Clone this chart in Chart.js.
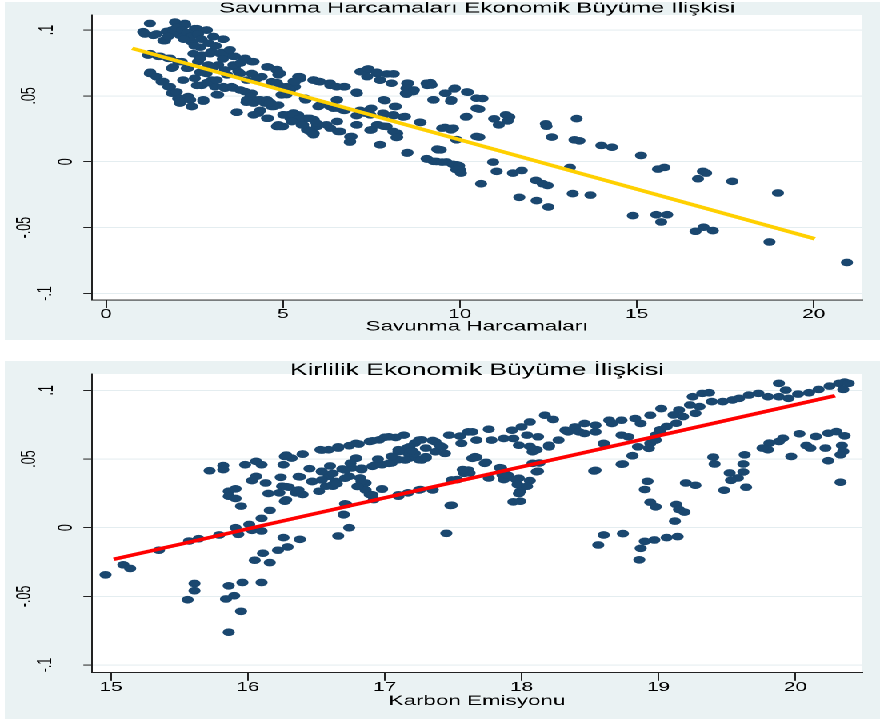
<!DOCTYPE html>
<html>
<head>
<meta charset="utf-8">
<script src="https://cdn.jsdelivr.net/npm/chart.js"></script>
<style>
  html, body { margin: 0; padding: 0; background: #ffffff; }
  /* grafik dar çizilip yatayda 1.6 kat gerilir (orijinal görüntü gibi) */
  #stage { position: absolute; left: 0; top: 0; width: 550px; height: 720px; transform: scaleX(1.6); transform-origin: 0 0; }
  .panel { position: absolute; left: 3px; width: 547px; }
  #p1 { top: 2px; height: 338px; }
  #p2 { top: 361px; height: 358px; }
</style>
</head>
<body>
<div id="stage">
  <div class="panel" id="p1"><canvas id="canvasSavunma"></canvas></div>
  <div class="panel" id="p2"><canvas id="canvasKarbon"></canvas></div>
</div>
<script>
// Savunma harcamaları (x) - ekonomik büyüme (y)
var savunmaNoktalar = [
  [1.24,0.105],[1.05,0.0987],[1.34,0.096],[1.95,0.106],[2.23,0.105],[1.86,0.1],[2.09,0.096],[2.51,0.101],[2.84,0.1],[3.03,0.095],
  [3.31,0.093],[1.67,0.092],[2.42,0.091],[2.66,0.087],[2.7,0.081],[2.98,0.0836],[3.27,0.083],[3.64,0.08],[3.93,0.0785],[4.12,0.076],
  [4.58,0.072],[4.82,0.0697],[4.87,0.066],[1.19,0.081],[1.48,0.08],[1.76,0.0785],[2.04,0.076],[1.86,0.071],[2.32,0.071],[2.6,0.076],
  [2.89,0.0735],[3.17,0.0735],[3.36,0.0697],[3.64,0.072],[3.74,0.0684],[4.12,0.067],[4.4,0.0646],[4.68,0.0608],[5.1,0.057],[5.43,0.0646],
  [1.24,0.067],[1.43,0.0646],[1.57,0.0608],[1.76,0.057],[1.86,0.052],[2.04,0.048],[2.09,0.0445],[2.32,0.0495],[2.42,0.042],[2.75,0.046],
  [2.18,0.062],[2.51,0.0634],[2.7,0.058],[2.99,0.062],[3.17,0.0508],[3.08,0.057],[3.36,0.0558],[3.55,0.057],[3.93,0.0533],[4.12,0.052],
  [3.97,0.0452],[4.3,0.047],[4.49,0.0445],[4.68,0.042],[4.87,0.043],[4.3,0.0369],[3.69,0.0376],[4.58,0.033],[4.87,0.028],[5.15,0.0356],
  [5.43,0.0356],[5.53,0.028],[4.96,0.0508],[5.34,0.057],[4.96,0.057],[2.84,0.067],[3.36,0.081],
  [1.1,0.097],[1.43,0.097],[1.62,0.092],[1.72,0.099],[2.24,0.104],[2.57,0.101],[2.85,0.1],[3.04,0.095],[3.32,0.093],[1.25,0.082],
  [1.53,0.08],[1.81,0.0785],[2.14,0.076],[2.47,0.082],[2.66,0.0785],[2.94,0.082],[3.23,0.082],[3.6,0.08],[3.89,0.077],[4.17,0.076],
  [4.55,0.072],[4.83,0.07],[3.6,0.0735],[3.04,0.072],[2.66,0.068],[2.28,0.071],[1.9,0.072],[1.25,0.068],[1.43,0.0645],[1.62,0.061],
  [1.81,0.057],[2.0,0.053],[2.09,0.048],[2.09,0.046],[2.38,0.047],[2.43,0.042],[2.75,0.047],[2.57,0.058],[2.85,0.06],[3.13,0.062],
  [3.42,0.066],[3.79,0.067],[3.98,0.062],[4.26,0.063],[3.13,0.051],[3.32,0.057],[3.6,0.056],[3.79,0.0545],[4.08,0.0495],[3.98,0.047],
  [4.17,0.0445],[4.36,0.047],[4.55,0.047],[4.74,0.042],[4.36,0.039],[4.17,0.0356],[3.7,0.0376],[4.55,0.033],[4.64,0.045],[5.02,0.0356],
  [5.21,0.033],[5.3,0.037],[5.49,0.0306],[5.68,0.033],[5.87,0.032],[5.68,0.0242],[5.96,0.0268],[5.87,0.0217],[6.34,0.0255],[6.53,0.0306],
  [6.62,0.023],[6.9,0.019],[6.9,0.0154],[7.09,0.028],[4.83,0.0268],[5.0,0.0268],[5.2,0.0545],[5.1,0.051],[4.83,0.06],[5.3,0.061],
  [5.49,0.063],[5.87,0.062],[6.0,0.061],[6.34,0.058],[6.72,0.057],[5.64,0.047],[6.0,0.042],[6.43,0.0406],[6.53,0.047],[6.72,0.039],
  [7.09,0.052],[7.19,0.0684],[7.38,0.0697],[7.66,0.067],[7.94,0.0667],[8.13,0.0667],[7.75,0.062],[7.38,0.0646],[7.85,0.047],[8.19,0.042],
  [7.19,0.037],[7.47,0.04],[7.47,0.0356],[7.85,0.0356],[8.13,0.035],[8.4,0.034],[7.85,0.027],[7.66,0.028],[7.47,0.024],[8.23,0.0217],
  [8.23,0.0187],[7.75,0.0129],[8.51,0.0066],[8.51,0.0596],[8.51,0.0558],[8.7,0.0545],[8.47,0.052],[8.89,0.0298],[9.08,0.058],[9.17,0.06],
  [9.26,0.047],[9.08,0.002],[9.26,0.0003],[9.36,0.0096],
  [4.92,0.067],[5.48,0.0646],[5.34,0.0608],[5.86,0.062],[6.05,0.0608],[6.33,0.0596],[6.52,0.057],[6.75,0.057],[5.06,0.0558],[7.08,0.0528],
  [7.22,0.0684],[7.41,0.0705],[7.65,0.068],[7.74,0.062],[8.12,0.0667],[8.07,0.0596],[8.54,0.0596],[8.49,0.0558],[8.68,0.0533],[8.49,0.0513],
  [9.06,0.0596],[9.2,0.0583],[9.58,0.052],[9.86,0.0558],[10.23,0.0528],[9.76,0.047],[9.25,0.047],[10.47,0.0482],[6.52,0.047],[5.62,0.0482],
  [6.05,0.043],[6.33,0.042],[6.56,0.0406],[6.75,0.039],[7.18,0.039],[7.5,0.0406],[7.88,0.0464],[8.16,0.042],[7.08,0.035],[7.32,0.0369],
  [7.83,0.0369],[8.12,0.0356],[8.45,0.0343],[8.87,0.03],[5.01,0.0356],[5.29,0.0356],[5.48,0.033],[5.76,0.033],[5.95,0.0293],[6.23,0.028],
  [5.25,0.0305],[5.57,0.028],[5.76,0.023],[5.86,0.0205],[4.92,0.0268],[7.08,0.028],[6.56,0.023],[6.94,0.0192],[6.89,0.0149],[7.5,0.0242],
  [7.69,0.028],[7.93,0.0268],[8.12,0.023],[8.21,0.0184],[7.74,0.0129],[8.52,0.007],[9.06,0.0023],[9.34,0.0002],[9.62,-0.0002],[9.91,-0.0023],
  [10.0,-0.006],[9.39,0.009],[9.58,0.026],[9.81,0.0255],[9.91,0.0167],[10.19,0.0343],[10.47,0.0406],[10.47,0.0192],
  [9.6,0.052],[9.84,0.0553],[10.2,0.053],[10.64,0.048],[9.75,0.046],[10.55,0.04],[10.17,0.034],[10.97,0.0326],[11.3,0.0356],[11.4,0.034],
  [11.35,0.031],[11.1,0.028],[12.43,0.0288],[12.45,0.027],[12.6,0.0187],[13.3,0.0328],[13.24,0.0166],[13.38,0.0159],[14.0,0.0124],[14.3,0.011],
  [15.12,0.0048],[15.6,-0.0056],[15.78,-0.0043],[16.87,-0.0073],[16.96,-0.0086],[16.73,-0.0129],[17.7,-0.0149],[18.99,-0.0237],[9.5,0.0255],[9.75,0.0242],
  [9.9,0.0167],[10.55,0.0187],[9.46,0.009],[9.5,-0.0003],[9.8,-0.002],[9.98,-0.003],[9.9,-0.006],[10.03,-0.0086],[10.6,-0.0167],[10.94,-0.0003],
  [11.04,-0.0073],[11.5,-0.0086],[11.75,-0.0066],[11.68,-0.027],[12.15,-0.0141],[12.34,-0.0167],[12.48,-0.018],[12.17,-0.0295],[12.5,-0.0343],[13.11,-0.0043],
  [13.19,-0.0242],[13.69,-0.0253],[14.89,-0.0409],[15.55,-0.0402],[15.69,-0.0457],[15.86,-0.0402],[16.66,-0.0528],[16.89,-0.0497],[17.15,-0.0523],[18.75,-0.0609],
  [20.94,-0.0765],
  [1.9,0.098],[2.0,0.102],[2.15,0.1],[2.3,0.098],[2.4,0.095],[2.6,0.097],[2.7,0.093],[2.2,0.093],[2.5,0.088],[1.75,0.095],
  [2.9,0.09],[3.1,0.088],[3.5,0.085],[3.3,0.078],[3.8,0.075]
];
// uydurulan doğru (uç noktalar)
var savunmaFit = [[0.74, 0.0861], [20.03, -0.0585]];

// Karbon emisyonu (x) - ekonomik büyüme (y)
var karbonNoktalar = [
  [14.96,-0.0343],[15.09,-0.027],[15.14,-0.0297],[15.35,-0.0164],[15.57,-0.0097],[15.64,-0.008],[15.56,-0.0524],[15.61,-0.0459],[15.61,-0.0406],[15.72,0.0415],
  [15.82,0.0452],[15.82,0.0423],[15.79,-0.0053],[15.86,0.0266],[15.91,0.0283],[15.86,0.0229],[15.91,0.0213],[15.95,0.0157],[15.91,0.0],[15.93,-0.0048],
  [15.84,-0.0519],[15.86,-0.0423],[15.9,-0.0495],[15.96,-0.0399],[15.95,-0.0609],[15.86,-0.0761],[15.98,0.0459],[16.01,0.0024],[16.03,-0.0019],[16.1,-0.0024],
  [16.03,0.0343],[16.06,0.0374],[16.06,0.0483],[16.1,0.0459],[16.13,0.0326],[16.1,0.0068],[16.16,0.0126],[16.05,-0.0237],[16.11,-0.0186],[16.16,-0.0254],
  [16.1,-0.0399],[16.15,0.0249],[16.23,0.0254],[16.24,0.0367],[16.25,0.0302],[16.3,0.0295],[16.27,0.0193],[16.26,-0.0072],[16.22,-0.0164],[16.29,-0.014],
  [16.38,-0.0085],[16.26,0.0459],[16.27,0.0519],[16.32,0.0507],[16.4,0.0536],[16.35,0.0254],[16.38,0.037],[16.4,0.0242],[16.47,0.0338],[16.52,0.0266],
  [16.53,0.0568],[16.59,0.0568],[16.66,0.058],[16.74,0.0597],[16.81,0.0609],[16.89,0.0628],[16.96,0.064],[17.0,0.0659],[17.08,0.0657],[17.14,0.0674],
  [16.54,0.0411],[16.59,0.0374],[16.64,0.0338],[16.57,0.0302],[16.62,0.0302],[16.69,0.0428],[16.74,0.0374],[16.79,0.0507],[16.76,0.0435],[16.83,0.0423],
  [16.82,0.0362],[16.86,0.0326],[16.89,0.0242],[16.92,0.0205],[16.98,0.0283],[16.91,0.0447],[16.98,0.0459],[17.05,0.0471],[17.1,0.0495],[17.18,0.0507],
  [17.25,0.0495],[17.3,0.0507],[17.1,0.0568],[17.16,0.058],[17.22,0.0616],[17.27,0.064],[17.35,0.0635],[17.17,0.0543],[17.1,0.0229],[17.17,0.0254],
  [17.26,0.0278],[17.35,0.0278],[16.7,0.0097],[16.72,0.0169],[16.74,0.0],[16.66,-0.006],
  [16.28,0.0529],[16.4,0.0536],[16.54,0.0565],[16.66,0.0589],[16.79,0.0614],[16.91,0.0633],[17.03,0.0662],[17.25,0.0638],[17.37,0.0625],[17.47,0.0674],
  [17.55,0.0667],[17.64,0.0698],[17.42,0.0589],[17.44,0.0541],[17.56,0.0614],[17.64,0.0505],[17.18,0.0589],[17.22,0.0541],[17.27,0.0493],[17.1,0.0553],
  [17.15,0.0493],[17.03,0.0469],[16.93,0.0457],[16.83,0.0433],[16.71,0.042],[16.62,0.0396],[16.79,0.0505],[16.54,0.0408],[16.47,0.0336],[16.54,0.0348],
  [16.62,0.0312],[16.71,0.036],[16.83,0.0336],[16.86,0.0275],[16.37,0.0372],[16.28,0.0299],[16.37,0.0275],[16.28,0.0203],[16.98,0.028],[16.91,0.0239],
  [17.1,0.0239],[17.25,0.0275],[17.35,0.0275],[17.49,0.0348],[17.58,0.0396],[17.61,0.042],[17.48,0.0162],[16.71,0.0174],[16.7,0.0094],[17.3,0.0517],
  [17.37,0.0553],
  [17.61,0.0698],[17.76,0.0717],[17.93,0.071],[18.0,0.0734],[18.06,0.077],[18.17,0.0819],[18.23,0.0788],[17.67,0.0638],[17.78,0.0638],[17.87,0.065],
  [17.94,0.065],[18.04,0.0674],[18.12,0.0662],[18.2,0.0601],[18.27,0.0638],[18.34,0.0698],[18.39,0.0734],[18.46,0.0759],[18.54,0.0746],[18.64,0.0783],
  [18.73,0.0783],[18.83,0.0795],[18.94,0.0819],[19.02,0.0867],[18.32,0.071],[18.42,0.0698],[18.46,0.0686],[18.54,0.0698],[18.6,0.0614],[18.66,0.0759],
  [18.73,0.0674],[18.78,0.0662],[18.87,0.0759],[17.98,0.0601],[18.08,0.0553],[18.1,0.0565],[18.2,0.0589],[17.66,0.0517],[17.73,0.0469],[17.84,0.0437],
  [17.86,0.0384],[18.08,0.0469],[18.11,0.0408],[17.98,0.036],[18.53,0.0413],[18.73,0.0462],[18.81,0.0524],[18.85,0.0589],[18.94,0.0614],[18.98,0.0638],
  [18.93,0.0578],[18.98,0.0674],[19.01,0.0698],
  [19.01,0.0713],[19.11,0.0821],[19.15,0.0857],[19.23,0.0894],[19.25,0.0954],[19.32,0.0978],[19.37,0.0983],[19.3,0.0882],[19.39,0.0918],[19.47,0.0918],
  [19.54,0.093],[19.59,0.0942],[19.66,0.0966],[19.73,0.0978],[19.8,0.0954],[19.88,0.0954],[19.95,0.0942],[19.88,0.1051],[19.93,0.1002],[20.02,0.0973],
  [20.1,0.0983],[20.17,0.1007],[20.25,0.1031],[20.32,0.1051],[20.36,0.106],[20.39,0.1051],[20.35,0.1007],[19.18,0.0809],[19.13,0.0761],[19.27,0.0833],
  [19.06,0.0737],
  [20.03,0.0684],[20.15,0.0664],[20.24,0.0688],[20.3,0.07],[20.36,0.0669],[20.34,0.0599],[20.35,0.0556],[20.33,0.0531],[20.22,0.058],[20.24,0.0488],
  [20.33,0.0331],[20.08,0.0599],[20.11,0.058],[19.97,0.0519],[19.91,0.0652],[19.88,0.0628],[19.81,0.0616],[19.8,0.0568],[19.76,0.058],[19.63,0.0531],
  [19.62,0.0464],[19.62,0.0406],[19.64,0.0295],[19.58,0.0362],[19.53,0.0345],[19.52,0.0399],[19.48,0.0273],[19.4,0.0514],[19.41,0.0464],[19.2,0.0326],
  [19.27,0.0309],[19.13,0.0169],[19.15,0.0133],[19.19,0.0114],[19.12,0.0048],[19.14,-0.0065],[19.06,-0.0072],[18.97,-0.0089],[18.9,-0.0099],[18.87,-0.015],
  [18.86,-0.0234],[18.94,0.0186],[18.98,0.0152],[18.9,0.0278],[18.92,0.0338],[18.74,-0.0043],[18.6,-0.0053],[18.56,-0.0126],[18.74,0.0464],[18.54,0.0418],
  [18.81,0.0524],[18.6,0.0611],[17.45,-0.0041],[17.49,0.0164],[17.67,0.0512],[17.74,0.0476],[17.76,0.0362],[17.85,0.0435],[17.87,0.035],[17.9,0.0382],
  [17.96,0.035],[17.97,0.0314],[17.99,0.0266],[17.98,0.0249],[17.94,0.0188],[17.99,0.0193],[18.06,0.0343],[18.04,0.0302],[18.12,0.0411],[18.13,0.0471],
  [18.11,0.0568],[18.06,0.0592],[17.62,0.0399],[17.57,0.0423],[17.53,0.035],
  [16.45,0.043],[16.6,0.045],[16.75,0.047],[16.95,0.05],[17.05,0.052],[17.2,0.056],[17.3,0.058],[17.4,0.06],[16.65,0.032],[16.8,0.03]
];
var karbonFit = [[15.02, -0.023], [20.29, 0.0961]];

// eksen işaretleri
var yTickValues = [-0.1, -0.05, 0, 0.05, 0.1];
var yTickLabels = ['-.1', '-.05', '0', '.05', '.1'];
var savunmaXTicks = [0, 5, 10, 15, 20];
var karbonXTicks = [15, 16, 17, 18, 19, 20];

// dikey etiketlerin yatay kayması (px, + sağa) - Stata'daki gibi
var yLabelShift = [0, -13, 13, -10, 1];

Chart.defaults.font.family = "'Liberation Sans', Arial, sans-serif";
Chart.defaults.color = '#000';

// arka plan: gri-mavi panel, beyaz çizim alanı
var panelBg = {
  id: 'panelBg',
  beforeDraw: function (chart) {
    var ctx = chart.ctx, a = chart.chartArea;
    ctx.save();
    ctx.fillStyle = '#eaf2f3';
    ctx.fillRect(0, 0, chart.width, chart.height);
    ctx.fillStyle = '#ffffff';
    ctx.fillRect(a.left, a.top, a.right - a.left, a.bottom - a.top);
    ctx.restore();
  }
};

function toXY(list) {
  return list.map(function (p) { return { x: p[0], y: p[1] }; });
}

// döndürülmüş etikette boş satırlar = yatay kayma (satır yüksekliği 2px -> satır başına 1px)
function shiftLabel(text, s) {
  var pad = [];
  for (var k = 0; k < Math.abs(s); k++) pad.push('');
  return s > 0 ? pad.concat([text]) : [text].concat(pad);
}

function makeChart(id, o) {
  var ctx = document.getElementById(id).getContext('2d');
  return new Chart(ctx, {
    type: 'scatter',
    data: {
      datasets: [{
        data: toXY(o.points),
        backgroundColor: '#1a476f',
        pointRadius: 3.8,
        pointBorderWidth: 0,
        order: 1
      }, {
        data: toXY(o.fit),
        showLine: true,
        borderColor: o.lineColor,
        borderWidth: 3.5,
        pointRadius: 0,
        order: 0
      }]
    },
    options: {
      responsive: true,
      maintainAspectRatio: false,
      devicePixelRatio: 2,
      animation: false,
      layout: { padding: { left: 0, right: 11.25, top: 0, bottom: 0 } },
      plugins: {
        legend: { display: false },
        tooltip: { enabled: false },
        title: {
          display: true,
          text: o.title,
          fullSize: false,
          color: '#000',
          font: { size: o.titleSize, weight: 'normal', lineHeight: o.titleLine },
          padding: { top: o.titleTop, bottom: 0 }
        }
      },
      scales: {
        x: {
          type: 'linear',
          min: o.xMin,
          max: o.xMax,
          afterBuildTicks: function (s) { s.ticks = o.xTicks.map(function (v) { return { value: v }; }); },
          afterFit: function (s) { s.height = o.xAxisHeight; s.paddingLeft = 0; s.paddingRight = 0; },
          grid: { drawOnChartArea: false, tickColor: '#222', tickLength: 8 },
          border: { color: '#222', width: 1 },
          ticks: { padding: 0, autoSkip: false, maxRotation: 0, font: { size: 13, lineHeight: 1 } },
          title: { display: true, text: o.xTitle, font: { size: 14, lineHeight: 1 }, padding: { top: 0, bottom: o.xTitlePad } }
        },
        y: {
          min: o.yMin,
          max: o.yMax,
          afterBuildTicks: function (s) { s.ticks = yTickValues.map(function (v) { return { value: v }; }); },
          afterFit: function (s) { s.width = 54.5; s.paddingTop = 0; s.paddingBottom = 0; },
          grid: { color: '#e4edf0', tickColor: '#222', tickLength: 5.4 },
          border: { color: '#222', width: 1 },
          ticks: {
            minRotation: 90, maxRotation: 90, crossAlign: 'center', padding: 13, autoSkip: false,
            font: { size: 12.5, lineHeight: '2px' },
            callback: function (v, i) { return shiftLabel(yTickLabels[i], yLabelShift[i]); }
          }
        }
      }
    },
    plugins: [panelBg]
  });
}

makeChart('canvasSavunma', {
  points: savunmaNoktalar, fit: savunmaFit, lineColor: '#ffd000',
  title: 'Savunma Harcamaları Ekonomik Büyüme İlişkisi', titleSize: 15, titleLine: '13px', titleTop: 0,
  xTitle: 'Savunma Harcamaları', xTicks: savunmaXTicks, xMin: -0.396, xMax: 21.365,
  yMin: -0.105, yMax: 0.1114, xAxisHeight: 40, xTitlePad: 6.5
});

makeChart('canvasKarbon', {
  points: karbonNoktalar, fit: karbonFit, lineColor: '#ff0000',
  title: 'Kirlilik Ekonomik Büyüme İlişkisi', titleSize: 16.5, titleLine: '7px', titleTop: 6,
  xTitle: 'Karbon Emisyonu', xTicks: karbonXTicks, xMin: 14.861, xMax: 20.487,
  yMin: -0.1056, yMax: 0.1119, xAxisHeight: 46.3, xTitlePad: 11
});
</script>
</body>
</html>
